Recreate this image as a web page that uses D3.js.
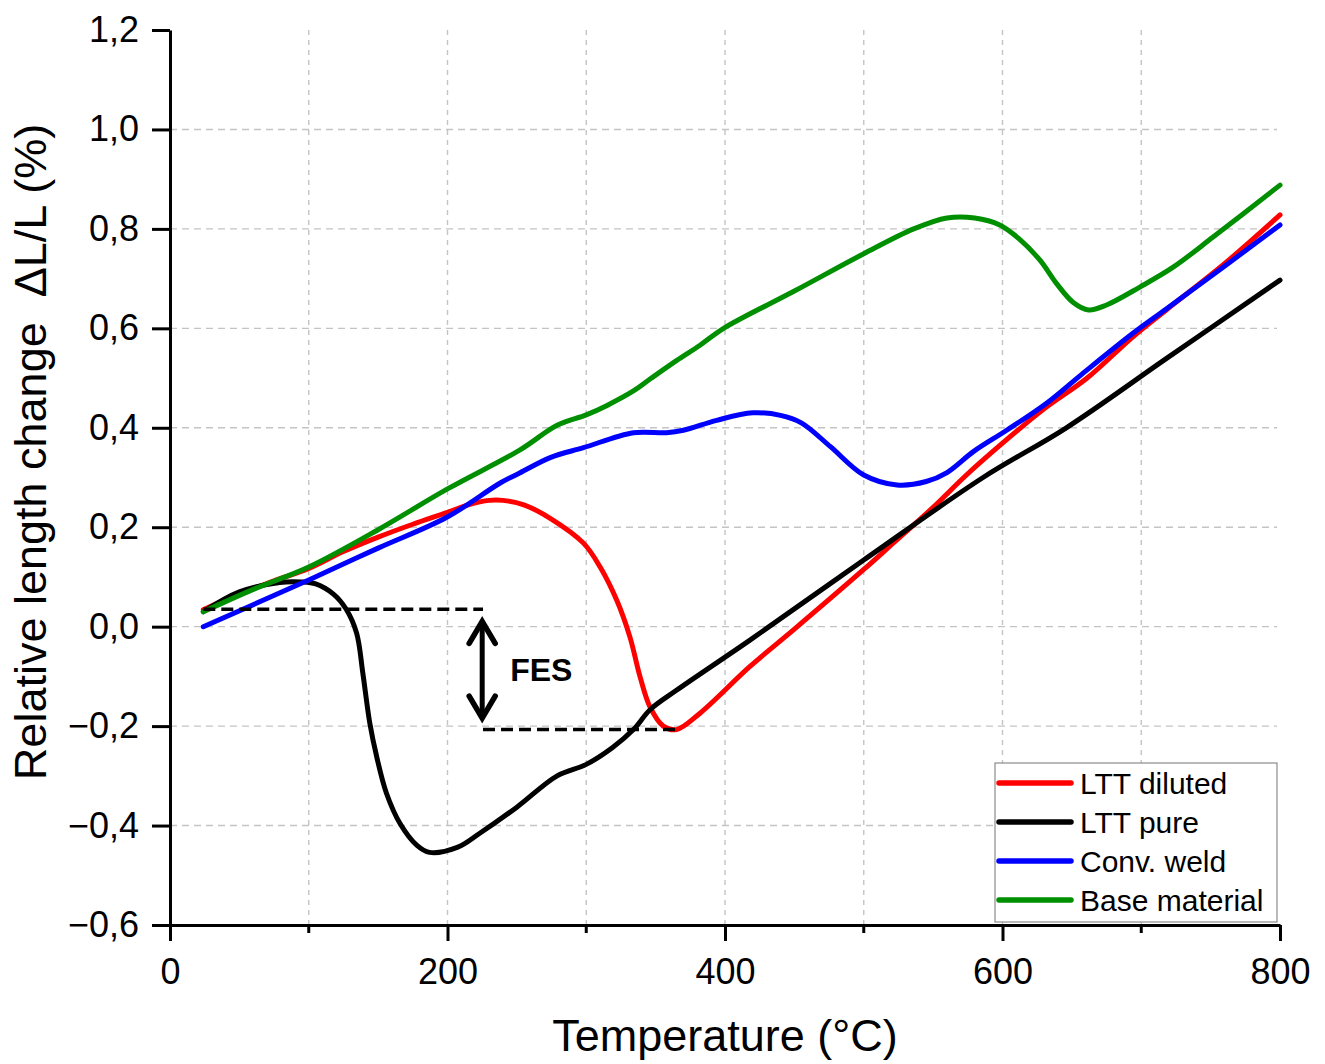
<!DOCTYPE html>
<html>
<head>
<meta charset="utf-8">
<script src="https://cdn.jsdelivr.net/npm/d3@7"></script>
<style>
  html, body { margin: 0; padding: 0; background: #fff; }
  svg { display: block; font-family: "Liberation Sans", Arial, sans-serif; }
</style>
</head>
<body>
<svg id="chart" width="1325" height="1064"></svg>
<script>
// Dilatometry curves: temperature (°C) vs relative length change (%)
const lttDiluted = [
  [24,0.034],[50,0.066],[75,0.092],[100,0.117],[125,0.151],[150,0.18],[175,0.206],
  [200,0.23],[215,0.245],[230,0.254],[240,0.254],[255,0.245],[274,0.218],[298,0.168],
  [310,0.12],[322,0.053],[331.5,-0.021],[338.7,-0.10],[346,-0.162],[355.5,-0.20],
  [365,-0.207],[382,-0.174],[418,-0.08],[450,-0.005],[500,0.115],[522,0.17],[550,0.24],
  [574,0.305],[600,0.369],[630,0.438],[661,0.50],[694,0.583],[718,0.637],[760,0.73],
  [800,0.828]
];
const lttPure = [
  [24,0.03],[50,0.07],[79,0.089],[95,0.09],[105,0.086],[118,0.065],[127,0.035],
  [134.5,-0.013],[139,-0.094],[144,-0.194],[149,-0.262],[156,-0.335],[166,-0.397],
  [178,-0.44],[187,-0.454],[207,-0.444],[223,-0.416],[250,-0.363],[279,-0.30],
  [300,-0.277],[319,-0.243],[334,-0.207],[346,-0.167],[365,-0.128],[418,-0.027],
  [500,0.134],[586,0.30],[646,0.40],[718.5,0.54],[800,0.697]
];
const convWeld = [
  [24,0.0],[100,0.094],[150,0.158],[199.5,0.22],[238,0.289],[252,0.309],[274,0.34],
  [298,0.36],[334,0.39],[358,0.39],[370,0.395],[394,0.415],[420,0.43],[440,0.425],
  [455,0.41],[476,0.362],[500,0.305],[524,0.285],[545,0.292],[560,0.31],[579,0.352],
  [603,0.395],[632,0.45],[656,0.505],[694,0.59],[718.5,0.64],[760,0.725],[800,0.808]
];
const baseMaterial = [
  [24,0.03],[60,0.075],[100,0.12],[150,0.195],[200,0.277],[252,0.355],[279,0.405],
  [300,0.426],[315,0.445],[334,0.474],[347,0.50],[365,0.535],[382,0.566],[399,0.60],
  [450,0.675],[500,0.75],[536,0.80],[560,0.822],[580,0.822],[598,0.808],[612,0.78],
  [627,0.737],[639,0.69],[651,0.652],[662,0.637],[675,0.647],[699,0.683],[723,0.723],
  [752,0.784],[800,0.888]
];

const seriesNames = ["LTT diluted", "LTT pure", "Conv. weld", "Base material"];
const seriesColors = ["#ff0000", "#000000", "#0000ff", "#008f00"];
const seriesData = [lttDiluted, lttPure, convWeld, baseMaterial];

const xMajorTicks = [0, 200, 400, 600, 800];
const xMinorTicks = [100, 300, 500, 700];
const yTicks = [-0.6, -0.4, -0.2, 0.0, 0.2, 0.4, 0.6, 0.8, 1.0, 1.2];

// FES annotation: start level, red-curve minimum, arrow position
const fesUpper = { level: 0.035, from: 24, to: 225.6 };
const fesLower = { level: -0.207, from: 225.6, to: 367.6 };
const fesArrow = { t: 225, top: 0.0145, bottom: -0.188 };

const svg = d3.select("#chart");
const x = d3.scaleLinear().domain([0, 800]).range([170, 1280]);
const y = d3.scaleLinear().domain([-0.6, 1.2]).range([925, 30]);

// grid
const grid = svg.append("g").attr("stroke", "#c4c4c4").attr("stroke-width", 1.4).attr("fill", "none");
grid.selectAll("line.v").data([100, 200, 300, 400, 500, 600, 700]).join("line")
  .attr("x1", d => x(d)).attr("x2", d => x(d)).attr("y1", y(1.2)).attr("y2", y(-0.6))
  .attr("stroke-dasharray", "5,5");
grid.selectAll("line.h").data(yTicks.filter(v => v > -0.6 && v < 1.1)).join("line")
  .attr("x1", x(0)).attr("x2", 1277).attr("y1", d => y(d)).attr("y2", d => y(d))
  .attr("stroke-dasharray", "7,5");

// data lines
const line = d3.line().x(d => x(d[0])).y(d => y(d[1])).curve(d3.curveCatmullRom.alpha(0.5));
svg.append("g").selectAll("path").data(seriesData).join("path")
  .attr("d", d => line(d))
  .attr("fill", "none")
  .attr("stroke", (d, i) => seriesColors[i])
  .attr("stroke-width", 5)
  .attr("stroke-linejoin", "round")
  .attr("stroke-linecap", "round");

// FES annotation
const ann = svg.append("g").attr("stroke", "#000").attr("fill", "none");
[fesUpper, fesLower].forEach(s => {
  ann.append("line")
    .attr("x1", x(s.from)).attr("x2", x(s.to))
    .attr("y1", y(s.level)).attr("y2", y(s.level))
    .attr("stroke-width", 3.5).attr("stroke-dasharray", "12,6");
});
const ax = x(fesArrow.t), aTop = y(fesArrow.top), aBot = y(fesArrow.bottom);
ann.append("line").attr("x1", ax).attr("x2", ax).attr("y1", aTop + 2).attr("y2", aBot - 2)
  .attr("stroke-width", 5);
ann.append("path")
  .attr("d", `M${ax - 13},${aTop + 24}L${ax},${aTop + 2}L${ax + 13},${aTop + 24}`)
  .attr("stroke-width", 5.5).attr("stroke-linejoin", "miter").attr("stroke-linecap", "round");
ann.append("path")
  .attr("d", `M${ax - 13},${aBot - 24}L${ax},${aBot - 2}L${ax + 13},${aBot - 24}`)
  .attr("stroke-width", 5.5).attr("stroke-linejoin", "miter").attr("stroke-linecap", "round");
svg.append("text")
  .attr("x", x(fesArrow.t) + 28).attr("y", y((fesArrow.top + fesArrow.bottom) / 2) + 11)
  .attr("font-size", 32).attr("font-weight", "bold").text("FES");

// axes
const fmt = v => d3.format(".1f")(v).replace(".", ",");
const xAxis = svg.append("g").attr("transform", `translate(0,${y(-0.6)})`)
  .call(d3.axisBottom(x).tickValues(xMajorTicks).tickSize(16).tickSizeOuter(0).tickPadding(17).tickFormat(d3.format("d")));
const yAxis = svg.append("g").attr("transform", `translate(${x(0)},0)`)
  .call(d3.axisLeft(y).tickValues(yTicks).tickSize(18).tickSizeOuter(0).tickPadding(13).tickFormat(fmt));
[xAxis, yAxis].forEach(g => {
  g.select(".domain").attr("stroke", "#000").attr("stroke-width", 3);
  g.selectAll(".tick line").attr("stroke", "#000").attr("stroke-width", 3);
  g.selectAll(".tick text").attr("fill", "#000").attr("font-size", 36)
    .attr("font-family", "'Liberation Sans', Arial, sans-serif");
});
xAxis.selectAll(".minor").data(xMinorTicks).join("line")
  .attr("x1", d => x(d)).attr("x2", d => x(d)).attr("y1", 0).attr("y2", 8)
  .attr("stroke", "#000").attr("stroke-width", 3);

// axis titles
svg.append("text")
  .attr("x", (x(0) + x(800)) / 2).attr("y", 1051)
  .attr("text-anchor", "middle").attr("font-size", 45)
  .text("Temperature (°C)");
svg.append("text")
  .attr("transform", "translate(46,452) rotate(-90)")
  .attr("text-anchor", "middle").attr("font-size", 45)
  .style("white-space", "pre")
  .text("Relative length change  ΔL/L (%)");

// legend
const legend = svg.append("g");
legend.append("rect")
  .attr("x", 995).attr("y", 763).attr("width", 282).attr("height", 159)
  .attr("fill", "#fff").attr("stroke", "#8c8c8c").attr("stroke-width", 1.2);
const items = legend.selectAll("g.item").data(seriesNames).join("g")
  .attr("transform", (d, i) => `translate(0,${783 + i * 39})`);
items.append("line")
  .attr("x1", 999).attr("x2", 1071).attr("y1", 0).attr("y2", 0)
  .attr("stroke", (d, i) => seriesColors[i]).attr("stroke-width", 5.5).attr("stroke-linecap", "round");
items.append("text")
  .attr("x", 1080).attr("y", 11).attr("font-size", 30).attr("fill", "#000")
  .text(d => d);
</script>
</body>
</html>
